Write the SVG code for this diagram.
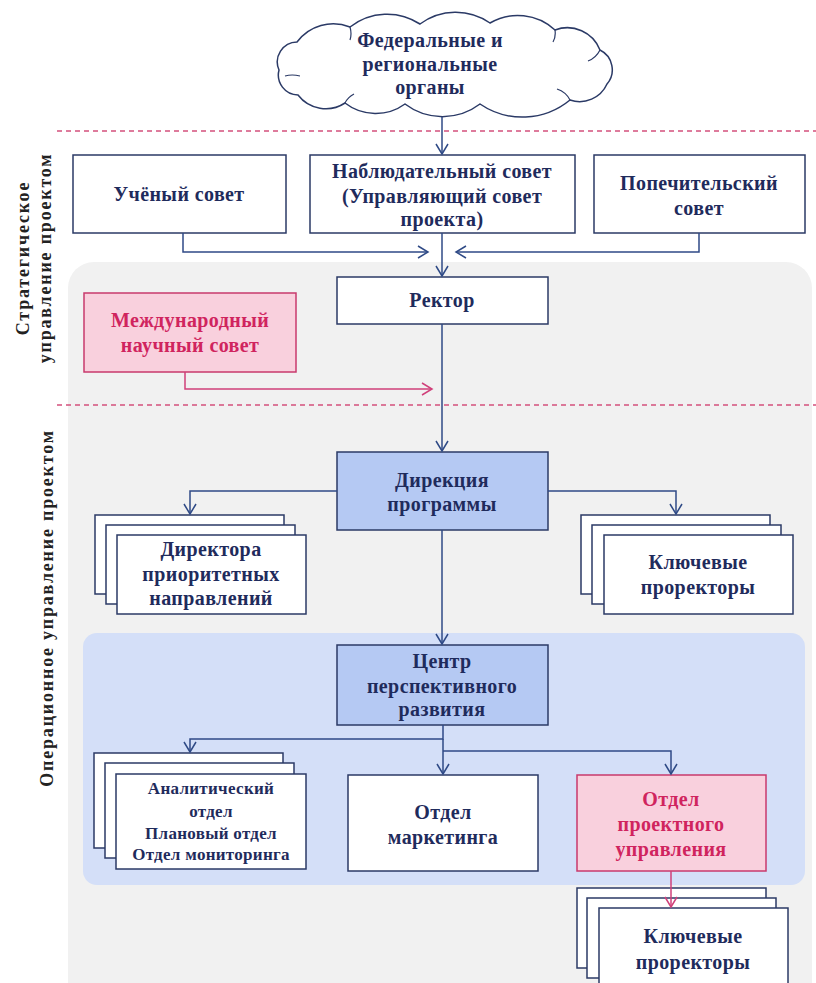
<svg xmlns="http://www.w3.org/2000/svg" width="816" height="983" viewBox="0 0 816 983">
<defs>
<style>
.t{font-family:"Liberation Serif","Times New Roman",serif;font-weight:bold;font-size:20px;fill:#1f2b5c;text-anchor:middle;letter-spacing:0.4px}
.s{font-size:17px;letter-spacing:0.3px}
.pk{fill:#d0245e}
.box{fill:#ffffff;stroke:#2b3a66;stroke-width:1.5}
.blue{fill:#b5c9f3;stroke:#2b3a66;stroke-width:1.5}
.pink{fill:#f9d0dd;stroke:#c83a6c;stroke-width:1.5}
.c{fill:none;stroke:#2f4a86;stroke-width:1.5}
.cp{fill:none;stroke:#d0407a;stroke-width:1.5}
.dash{stroke:#d4507c;stroke-width:1.3;stroke-dasharray:5 4;fill:none}
.lab{font-family:"Liberation Serif","Times New Roman",serif;font-weight:bold;font-size:18px;fill:#222;text-anchor:middle;letter-spacing:1.8px}
</style>
<marker id="a" markerUnits="userSpaceOnUse" markerWidth="14" markerHeight="16" refX="11" refY="7" orient="auto">
<path d="M1,1 L11,7 L1,13" fill="none" stroke="#2f4a86" stroke-width="1.5"/>
</marker>
<marker id="ap" markerUnits="userSpaceOnUse" markerWidth="14" markerHeight="16" refX="11" refY="7" orient="auto">
<path d="M1,1 L11,7 L1,13" fill="none" stroke="#d0407a" stroke-width="1.5"/>
</marker>
</defs>
<rect width="816" height="983" fill="#ffffff"/>
<rect x="68" y="262" width="744" height="760" rx="26" fill="#f1f1f1"/>
<rect x="83" y="633" width="722" height="252" rx="14" fill="#d4dff8"/>
<line class="dash" x1="57" y1="131" x2="816" y2="131"/>
<line class="dash" x1="57" y1="405" x2="816" y2="405"/>
<text class="lab" transform="translate(29,258) rotate(-90)">Стратегическое</text>
<text class="lab" transform="translate(51,258) rotate(-90)">управление проектом</text>
<text class="lab" transform="translate(53,608) rotate(-90)">Операционное управление проектом</text>
<g id="cloud">
<path fill="#ffffff" stroke="#2b3a66" stroke-width="1.5" d="M298,95 A20,20 0 0 1 279,70 A20,20 0 0 1 297,42 A45,45 0 0 1 350,27 A60,60 0 0 1 420,24 A60,60 0 0 1 490,23 A55,55 0 0 1 555,30 A35,35 0 0 1 600,50 A22,22 0 0 1 607,84 A30,30 0 0 1 570,100 A75,75 0 0 1 480,104 A62,62 0 0 1 405,104 A50,50 0 0 1 345,103 A35,35 0 0 1 298,95 Z"/>
<path fill="none" stroke="#2b3a66" stroke-width="1.2" d="M285,76 Q292,74 300,76 M350,27 Q352,34 350,40 M555,30 Q556,37 553,42 M600,50 Q596,58 588,61 M570,100 Q566,92 557,89 M345,103 Q348,97 354,94"/>
<text class="t" x="430" y="47">Федеральные и</text>
<text class="t" x="430" y="71">региональные</text>
<text class="t" x="430" y="94">органы</text>
</g>
<g id="uchenyi">
<rect class="box" x="73" y="155" width="213" height="78"/>
<text class="t" x="179" y="201">Учёный совет</text>
</g>
<g id="nablyud">
<rect class="box" x="310" y="155" width="265" height="78"/>
<text class="t" x="442" y="178">Наблюдательный совет</text>
<text class="t" x="442" y="203">(Управляющий совет</text>
<text class="t" x="442" y="226">проекта)</text>
</g>
<g id="popech">
<rect class="box" x="594" y="155" width="211" height="78"/>
<text class="t" x="699" y="190">Попечительский</text>
<text class="t" x="699" y="215">совет</text>
</g>
<g id="rektor">
<rect class="box" x="337" y="277" width="211" height="47"/>
<text class="t" x="442" y="307">Ректор</text>
</g>
<g id="mezhdunar">
<rect class="pink" x="84" y="293" width="212" height="79"/>
<text class="t pk" x="190" y="327">Международный</text>
<text class="t pk" x="190" y="352">научный совет</text>
</g>
<g id="direkciya">
<rect class="blue" x="337" y="452" width="211" height="78"/>
<text class="t" x="442" y="487">Дирекция</text>
<text class="t" x="442" y="511">программы</text>
</g>
<g id="direktora">
<rect class="box" x="95" y="515" width="189" height="79"/>
<rect class="box" x="106" y="525" width="189" height="79"/>
<rect class="box" x="117" y="535" width="189" height="79"/>
<text class="t" x="211" y="556">Директора</text>
<text class="t" x="211" y="581">приоритетных</text>
<text class="t" x="211" y="605">направлений</text>
</g>
<g id="prorektory1">
<rect class="box" x="581" y="515" width="189" height="79"/>
<rect class="box" x="592" y="525" width="189" height="79"/>
<rect class="box" x="604" y="535" width="189" height="79"/>
<text class="t" x="698" y="569">Ключевые</text>
<text class="t" x="698" y="594">проректоры</text>
</g>
<g id="centr">
<rect class="blue" x="337" y="645" width="211" height="80"/>
<text class="t" x="442" y="668">Центр</text>
<text class="t" x="442" y="693">перспективного</text>
<text class="t" x="442" y="716">развития</text>
</g>
<g id="otdely">
<rect class="box" x="94" y="753" width="189" height="95"/>
<rect class="box" x="105" y="763" width="189" height="95"/>
<rect class="box" x="116" y="774" width="190" height="95"/>
<text class="t s" x="211" y="794">Аналитический</text>
<text class="t s" x="211" y="817">отдел</text>
<text class="t s" x="211" y="839">Плановый  отдел</text>
<text class="t s" x="211" y="860">Отдел мониторинга</text>
</g>
<g id="marketing">
<rect class="box" x="348" y="775" width="190" height="96"/>
<text class="t" x="443" y="819">Отдел</text>
<text class="t" x="443" y="844">маркетинга</text>
</g>
<g id="proektnoe">
<rect class="pink" x="577" y="775" width="189" height="96"/>
<text class="t pk" x="671" y="806">Отдел</text>
<text class="t pk" x="671" y="831">проектного</text>
<text class="t pk" x="671" y="856">управления</text>
</g>
<g id="prorektory2">
<rect class="box" x="577" y="888" width="189" height="80"/>
<rect class="box" x="587" y="898" width="189" height="80"/>
<rect class="box" x="599" y="908" width="189" height="90"/>
<text class="t" x="693" y="943">Ключевые</text>
<text class="t" x="693" y="969">проректоры</text>
</g>
<g id="connectors">
<path class="c" d="M442,117 V154" marker-end="url(#a)"/>
<path class="c" d="M183,233 V252 H428" marker-end="url(#a)"/>
<path class="c" d="M699,233 V252 H456" marker-end="url(#a)"/>
<path class="c" d="M442,233 V276" marker-end="url(#a)"/>
<path class="c" d="M442,324 V451" marker-end="url(#a)"/>
<path class="cp" d="M185,372 V389 H432" marker-end="url(#ap)"/>
<path class="c" d="M337,491 H190 V514" marker-end="url(#a)"/>
<path class="c" d="M548,491 H676 V514" marker-end="url(#a)"/>
<path class="c" d="M442,530 V644" marker-end="url(#a)"/>
<path class="c" d="M443,725 V739 H190 V752" marker-end="url(#a)"/>
<path class="c" d="M443,739 V774" marker-end="url(#a)"/>
<path class="c" d="M443,751 H671 V774" marker-end="url(#a)"/>
<path class="cp" d="M671,871 V907" marker-end="url(#ap)"/>
</g>
</svg>
